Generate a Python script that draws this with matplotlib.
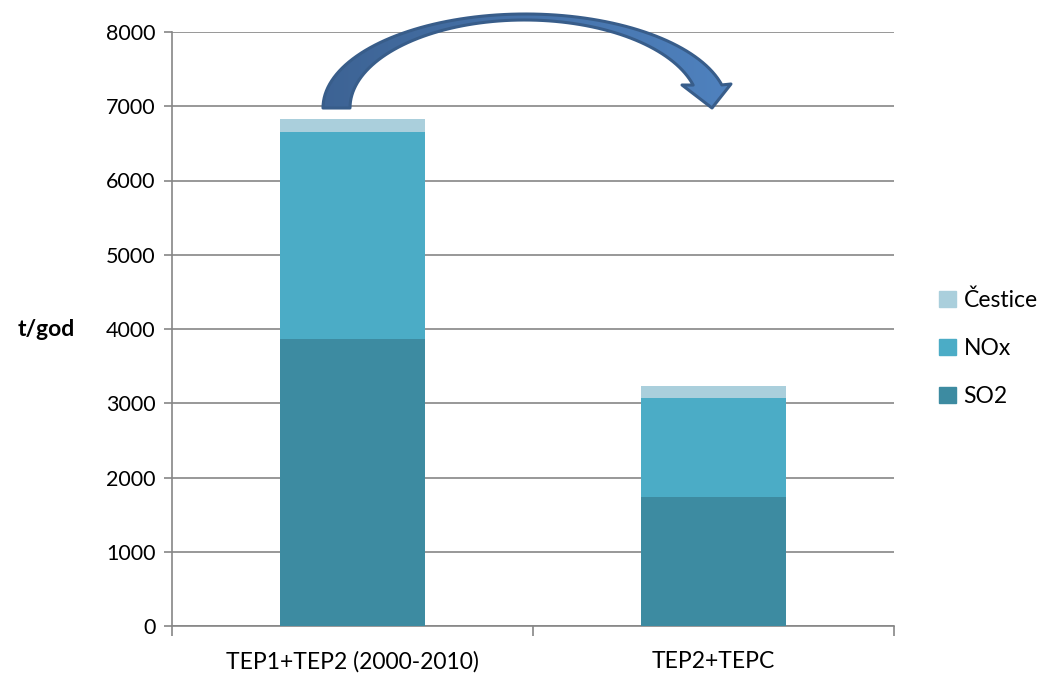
import numpy as np
import matplotlib
matplotlib.use("Agg")
import matplotlib.pyplot as plt
from matplotlib.patches import Patch, Polygon

plt.rcParams['font.family'] = ['Lato', 'DejaVu Sans']

# data
categories = ['TEP1+TEP2 (2000-2010)', 'TEP2+TEPC']
so2 = [3860, 1740]
nox = [2790, 1325]
cestice = [180, 165]
series_names = ['SO2', 'NOx', 'Čestice']
y_ticks = [0, 1000, 2000, 3000, 4000, 5000, 6000, 7000, 8000]

colors = ['#3d8ba1', '#4bacc6', '#aacfdc']
grid_col = '#868686'

W, H = 1039, 674
fig = plt.figure(figsize=(W / 100, H / 100), dpi=100)
ax = fig.add_axes([172 / W, (H - 626) / H, (894 - 172) / W, (626 - 32) / H])

x = np.arange(len(categories))
bottom = np.zeros(len(categories))
for vals, name, c in zip([so2, nox, cestice], series_names, colors):
    ax.bar(x, vals, width=0.4, bottom=bottom, color=c, label=name, zorder=3)
    bottom += np.array(vals)

ax.set_xlim(-0.5, len(categories) - 0.5)
ax.set_ylim(0, 8000)
ax.set_yticks(y_ticks)
ax.set_yticklabels([str(t) for t in y_ticks], fontsize=15.5)
ax.yaxis.grid(True, color=grid_col, lw=1.2, zorder=0)

# category ticks on the boundaries, labels in the middle
ax.set_xticks([-0.5, 0.5, 1.5])
ax.set_xticklabels([])
ax.set_xticks(x, minor=True)
ax.set_xticklabels(categories, minor=True, fontsize=16.5)
ax.tick_params(axis='x', which='major', length=7, color=grid_col, width=1.2)
ax.tick_params(axis='x', which='minor', length=0, pad=18)
ax.tick_params(axis='y', length=6, color=grid_col, width=1.2, pad=6)
for s in ['top', 'right']:
    ax.spines[s].set_visible(False)
for s in ['left', 'bottom']:
    ax.spines[s].set_color(grid_col)
    ax.spines[s].set_linewidth(1.2)

fig.text(18 / W, (H - 329) / H, 't/god', fontsize=16.5, fontweight='bold',
         ha='left', va='center')

handles = [Patch(color=c, label=n) for n, c in zip(series_names, colors)][::-1]
fig.legend(handles=handles, loc='center left', frameon=False,
           bbox_to_anchor=(928 / W, (H - 348) / H), fontsize=16.5,
           handlelength=0.7, handleheight=0.7, handletextpad=0.35,
           labelspacing=1.17, borderpad=0)

# curved arrow drawn on an overlay in pixel coordinates
ov = fig.add_axes([0, 0, 1, 1])
ov.set_xlim(0, W)
ov.set_ylim(H, 0)
ov.axis('off')

def arc(cx, cy, a, b, t0, t1, n=80):
    t = np.radians(np.linspace(t0, t1, n))
    return np.column_stack([cx + a * np.cos(t), cy - b * np.sin(t)])

outer = arc(525.5, 108, 202.5, 94, 180, 14.2)
inner = arc(524.6, 108, 174.6, 88, 15.1, 180)
head = np.array([[731, 84], [712, 108], [682, 85]])
pts = np.vstack([outer, head, inner])

grad = np.linspace(0, 1, 256).reshape(1, -1)
cmap = matplotlib.colors.LinearSegmentedColormap.from_list('a', ['#3d6394', '#4f82bf'])
img = ov.imshow(grad, extent=(320, 735, 115, 10), cmap=cmap, aspect='auto', zorder=5)
poly = Polygon(pts, closed=True, facecolor='none', edgecolor='#385d8a', lw=2.2,
               joinstyle='round', zorder=6)
ov.add_patch(poly)
clip = Polygon(pts, closed=True, transform=ov.transData)
img.set_clip_path(clip)

fig.savefig('out.png', dpi=100)
